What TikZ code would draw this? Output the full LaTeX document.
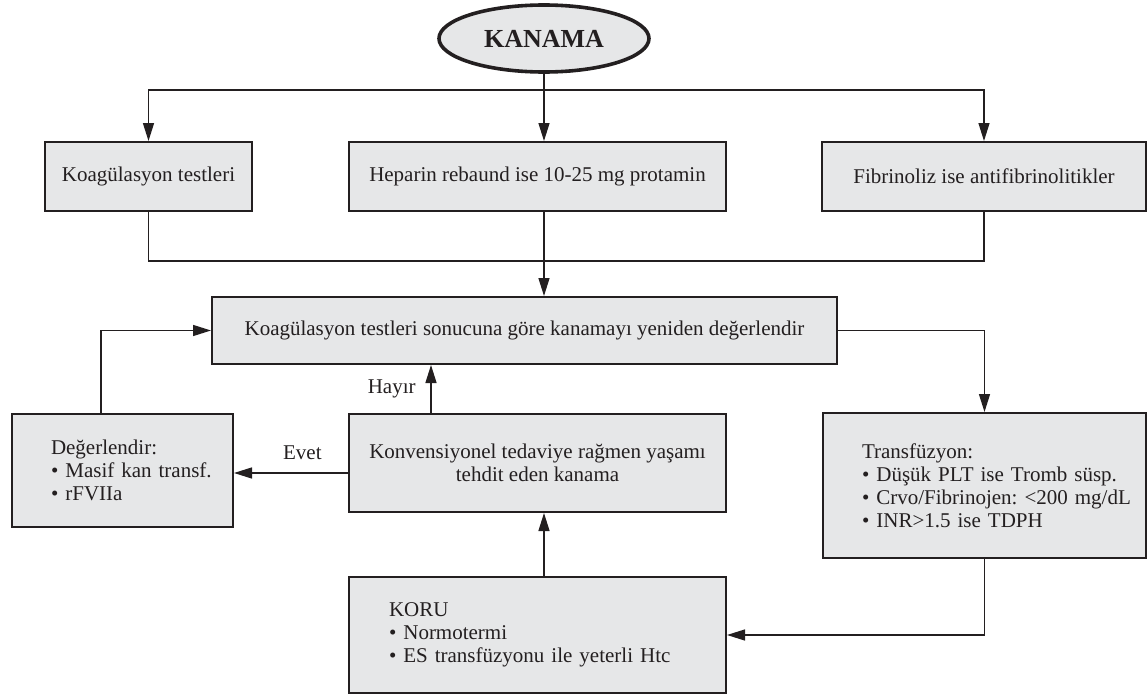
\documentclass[tikz,border=0pt]{standalone}
\usepackage{fontspec}
\setmainfont{Liberation Serif}
\usetikzlibrary{arrows.meta,shapes.geometric}
\definecolor{kutugri}{HTML}{E6E7E8}
\definecolor{cizgi}{HTML}{231F20}
\frenchspacing
\tikzset{
  kutu/.style   = {shape=rectangle, draw=cizgi, line width=1pt,
                   fill=kutugri, align=center, text=cizgi,
                   font=\fontsize{10.5}{11.5}\selectfont},
  liste/.style  = {kutu, align=left, inner xsep=0pt},
  bas/.style    = {ellipse, draw=cizgi, line width=1.8pt, fill=kutugri,
                   inner sep=0pt, text=cizgi,
                   font=\fontsize{13}{15}\selectfont\bfseries},
  hat/.style    = {draw=cizgi, line width=0.7pt},
  ok/.style     = {hat, -{Triangle[length=9pt,width=5.5pt]}},
  etiket/.style = {text=cizgi, font=\fontsize{10.5}{11.5}\selectfont}
}

\begin{document}
\begin{tikzpicture}[x=0.5pt,y=-0.5pt]
  \useasboundingbox (0,0) rectangle (1148,696);

  % ust kisim
  \node[bas, minimum width=105pt, minimum height=33.5pt] (kanama) at (544,38.5) {KANAMA};
  \node[kutu, minimum width=103.5pt, minimum height=34.5pt] (koag) at (148.5,176.5) {Koagülasyon testleri};
  \node[kutu, minimum width=188.5pt, minimum height=34.5pt] (heparin) at (537.5,176.5) {Heparin rebaund ise 10-25 mg protamin};
  \node[kutu, minimum width=162pt, minimum height=34.5pt] (fibrin) at (984,176.5) {Fibrinoliz ise antifibrinolitikler};

  % orta kisim
  \node[kutu, minimum width=312.5pt, minimum height=33.5pt] (yeniden) at (524.5,330.5)
    {Koagülasyon testleri sonucuna göre kanamayı yeniden değerlendir};
  \node[liste, text width=110.5pt, minimum height=56.5pt] (masif) at (122.5,470.5)
    {\leftskip=19.5pt Değerlendir:\\• Masif kan transf.\\• rFVIIa\par};
  \node[kutu, minimum width=188.5pt, minimum height=49pt] (konv) at (537.5,463)
    {Konvensiyonel tedaviye rağmen yaşamı\\tehdit eden kanama};
  \node[liste, text width=161.5pt, minimum height=72.5pt] (transf) at (984.5,485.5)
    {\leftskip=19.5pt Transfüzyon:\\• Düşük PLT ise Tromb süsp.\\• Crvo/Fibrinojen: <200 mg/dL\\• INR>1.5 ise TDPH\par};

  % alt kisim
  \node[liste, text width=188.5pt, minimum height=58pt] (koru) at (537.5,635)
    {\leftskip=20pt KORU\\• Normotermi\\• ES transfüzyonu ile yeterli Htc\par};

  \coordinate (ust) at (544,90);
  \coordinate (alt) at (544,261);
  \coordinate (sol) at (101,327);
  \coordinate (hayir) at (431,400);
  \coordinate (evet) at (300,473);

  % baglantilar
  \draw[hat] (kanama.south) -- (ust);
  \draw[ok] (ust) -| (koag.north);
  \draw[ok] (ust) -| (fibrin.north);
  \draw[ok] (ust) -- (ust |- heparin.north);
  \draw[hat] (koag.south) |- (alt) -| (fibrin.south);
  \draw[ok] (heparin.south -| alt) -- (alt |- yeniden.north);
  \draw[ok] (yeniden.east) -| (transf.north);
  \draw[ok] (sol |- masif.north) |- (yeniden.west);
  \draw[ok] (konv.north -| hayir) -- (yeniden.south -| hayir)
    node[etiket, midway, left=4pt] (hayirlbl) {Hayır};
  \draw[ok] (konv.west |- evet) -- (masif.east |- evet)
    node[etiket, pos=0.4, above=3pt] (evetlbl) {Evet};
  \draw[ok] (koru.north -| alt) -- (konv.south -| alt);
  \draw[ok] (transf.south) |- (koru.east);
\end{tikzpicture}
\end{document}
